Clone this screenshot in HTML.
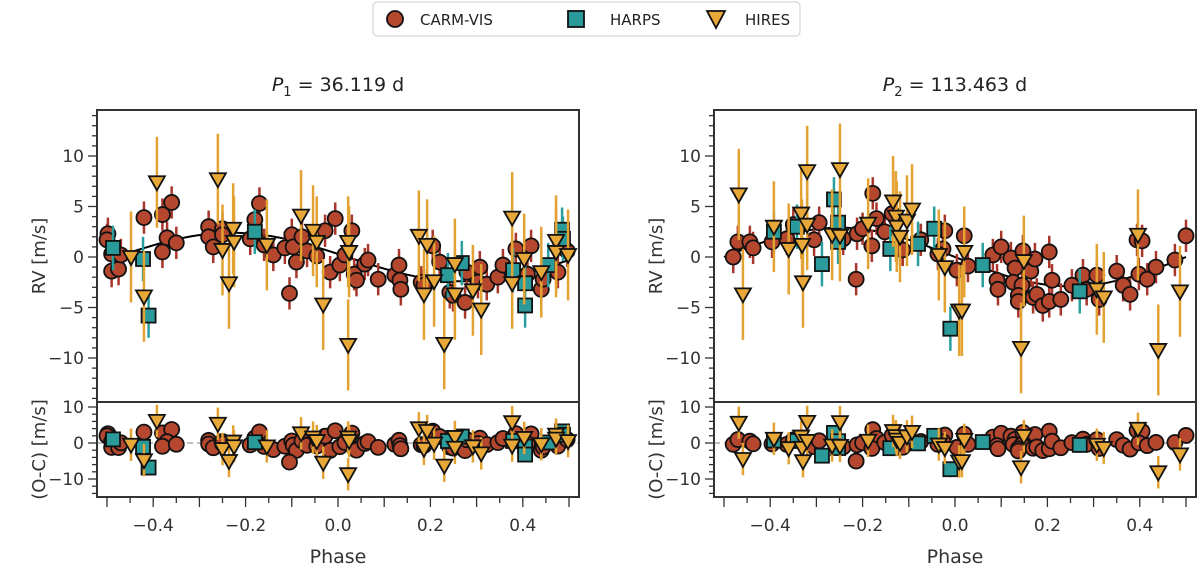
<!DOCTYPE html>
<html><head><meta charset="utf-8"><style>
html,body{margin:0;padding:0;background:#fff;}
svg{display:block;font-family:"DejaVu Sans","Liberation Sans",sans-serif;}
</style></head><body>
<svg id="fig" width="1200" height="569" viewBox="0 0 1200 569" xmlns="http://www.w3.org/2000/svg">
<g>
<rect x="373" y="2" width="427" height="34" rx="4" fill="#fff" stroke="#ccc"/>
<g><circle cx="395" cy="19" r="8" fill="#b5472f" stroke="#111" stroke-width="1.8"/><text x="420" y="25" font-size="15" fill="#222">CARM-VIS</text></g>
<g><rect x="568" y="11" width="16" height="16" fill="#2a9a9a" stroke="#111" stroke-width="1.8"/><text x="610" y="25" font-size="15" fill="#222">HARPS</text></g>
<g><path d="M707,11 L725,11 L716,28 Z" fill="#e8a838" stroke="#111" stroke-width="1.8"/><text x="745" y="25" font-size="15" fill="#222">HIRES</text></g>
</g>
</svg>
<script>
// ===== Panel 1 (P1) data =====
const p1CarmPhase=[-0.498,-0.5,-0.49,-0.49,-0.475,-0.47,-0.42,-0.38,-0.36,-0.37,-0.38,-0.35,-0.28,-0.28,-0.27,-0.25,-0.25,-0.18,-0.17,-0.19,-0.16,-0.14,-0.115,-0.10,-0.097,-0.09,-0.105,-0.078,-0.067,-0.046,-0.028,-0.017,-0.006,0.03,0.004,0.015,0.035,0.04,0.058,0.065,0.087,0.123,0.132,0.134,0.136,0.18,0.186,0.205,0.22,0.242,0.249,0.275,0.279,0.307,0.303,0.322,0.346,0.357,0.385,0.418,0.41,0.44,0.444,0.476,0.496];
const p1CarmRV=[2.3,1.7,0.3,-1.4,-1.2,0.2,3.9,4.2,5.4,1.9,0.5,1.4,3,2,1,2.8,2.2,3.7,5.3,1.8,1.2,0.2,0.9,2.2,1,-0.5,-3.6,2,0.6,0.1,2.6,-1.5,3.8,2.6,-0.8,0.2,-1.7,-2.3,-0.7,-0.3,-2.2,-1.8,-0.8,-2.3,-3.2,-2.5,-2.8,1.1,-0.5,-3.5,-3.8,-4.5,-1.5,-1,-2.5,-2.7,-2,-0.8,0.8,1.1,-1.7,-3.2,-2.2,-1.5,0.6];
const p1HarpsPhase=[-0.487,-0.422,-0.41,-0.18,0.268,0.238,0.379,0.405,0.405,0.455,0.485,0.487];
const p1HarpsRV=[0.9,-0.2,-5.8,2.5,-0.6,-1.8,-1.3,-2.6,-4.8,-0.8,2.7,1.8];
const p1HiresPhase=[-0.448,-0.392,-0.42,-0.26,-0.25,-0.227,-0.225,-0.236,-0.154,-0.08,-0.054,-0.046,-0.032,0.022,0.024,0.022,0.175,0.193,0.186,0.208,0.23,0.253,0.253,0.292,0.31,0.377,0.377,0.403,0.44,0.472,0.472,0.498];
const p1HiresRV=[0,7.4,-3.9,7.7,0.7,2.8,1.5,-2.6,1.2,4.1,2.6,1.5,-4.7,1.5,0.5,-8.7,2.1,1.2,-3.7,-2.4,-8.6,-0.7,-3.7,-3.3,-5.2,3.9,-2.6,-0.2,-1.5,1.6,0.5,0.2];
const p1Model=[2.4,-0.23]; // semi-amplitude, phase of maximum
// ===== Panel 2 (P2) data =====
const p2CarmPhase=[-0.48,-0.47,-0.444,-0.437,-0.396,-0.364,-0.35,-0.305,-0.294,-0.242,-0.214,-0.212,-0.2,-0.178,-0.17,-0.18,-0.152,-0.136,-0.119,-0.113,-0.074,-0.022,-0.026,-0.037,0.004,0.02,0.028,0.082,0.1,0.121,0.13,0.091,0.093,0.126,0.147,0.164,0.173,0.145,0.137,0.137,0.169,0.177,0.19,0.204,0.204,0.21,0.229,0.253,0.277,0.285,0.307,0.312,0.35,0.364,0.379,0.394,0.405,0.398,0.416,0.435,0.476,0.5];
const p2CarmRV=[0,1.5,1.5,0.9,1.5,1.8,3.2,1.7,3.4,1.8,-2.2,2.3,2.8,6.3,3.8,1.1,2.5,4.3,0.8,0.7,1.7,2.6,0.8,0.3,-1.3,2.1,-0.9,0.2,1,-0.1,-1.1,-2.3,-3.2,-2.5,0.6,-1.4,-0.2,-2.8,-3.8,-4.4,-4.0,-3.7,-4.8,-4.4,0.5,-2.3,-4.2,-2.8,-1.8,-3.2,-1.8,-4.2,-1.4,-2.8,-3.7,1.7,1.6,-1.7,-2.2,-1,-0.3,2.1];
const p2HarpsPhase=[-0.392,-0.342,-0.262,-0.253,-0.253,-0.288,-0.14,-0.08,-0.045,-0.01,0.06,0.27];
const p2HarpsRV=[2.5,3.0,5.7,3.4,1.5,-0.7,0.8,1.3,2.8,-7.1,-0.8,-3.4];
const p2HiresPhase=[-0.468,-0.459,-0.392,-0.36,-0.333,-0.331,-0.32,-0.32,-0.329,-0.249,-0.266,-0.249,-0.188,-0.134,-0.128,-0.126,-0.119,-0.104,-0.093,-0.035,-0.022,0.009,0.02,0.015,0.149,0.143,0.307,0.322,0.396,0.44,0.487];
const p2HiresRV=[6.2,-3.7,3,0.8,4.3,1.2,3.2,8.5,-2.5,8.7,2.2,2.1,3.3,5.5,4,3,2,3.6,4.7,0.2,-1,-5.3,0.5,-5.3,-0.4,-9,-3.2,-4,2.2,-9.2,-3.4];
const p2Model=[2.9,-0.25];
const errCarm=1.6, errHarps=2.2, errHires=4.5;
const xTicks=[-0.4,-0.2,0.0,0.2,0.4];
const yTicksMain=[-10,-5,0,5,10];
const yTicksRes=[-10,0,10];

const NS="http://www.w3.org/2000/svg";
const svg=document.getElementById('fig');
function mk(tag,attrs,parent){const e=document.createElementNS(NS,tag);for(const k in attrs)e.setAttribute(k,attrs[k]);(parent||svg).appendChild(e);return e;}
function fmt(v){return (v<0?'\u2212':'')+Math.abs(v).toFixed(1);}

function panel(left,model,series,sub,period,key){
  const W=482, xs=p=>left+241+p*462;
  const ym=v=>257-10.1*v, yr=v=>443-3.6*v;
  const mTop=110,mBot=402,rBot=497;
  const modelF=p=>model[0]*Math.cos(2*Math.PI*(p-model[1]));
  const g=mk('g',{});
  
  
  const t=mk('text',{x:left+241,y:91,'text-anchor':'middle','font-size':19,fill:'#222'},g);
  
  
  t.innerHTML='<tspan font-style="italic">P</tspan><tspan font-size="13" dy="5">'+sub+'</tspan><tspan dy="-5"> = '+period+' d</tspan>';
  const zl=mk('line',{x1:left,x2:left+W,y1:yr(0),y2:yr(0),stroke:'#aaa','stroke-width':1.5,'stroke-dasharray':'6,4'},g);
  
  
  let d='';for(let i=0;i<=200;i++){const p=-0.5+i/200;d+=(i?'L':'M')+xs(p).toFixed(1)+','+ym(modelF(p)).toFixed(1);}
  const mc=mk('path',{d:d,fill:'none',stroke:'#000','stroke-width':2},g);
  
  
  series.forEach(s=>{
    const sg=mk('g',{},g);
    
    
    s.ph.forEach((p,i)=>{
      const v=s.rv[i], r=v-modelF(p), x=xs(p);
      [[ym(v),10.1],[yr(r),3.6]].forEach(([y,sc])=>{
        const eb=mk('line',{x1:x,x2:x,y1:y-s.err*sc,y2:y+s.err*sc,stroke:s.ec,'stroke-width':2.5},sg);
        
        
      });
    });
    s.ph.forEach((p,i)=>{
      const v=s.rv[i], r=v-modelF(p), x=xs(p);
      [ym(v),yr(r)].forEach(y=>{
        let m;
        if(s.name==='carm') m=mk('circle',{cx:x,cy:y,r:7.5,fill:s.fc,stroke:'#111','stroke-width':1.8},sg);
        else if(s.name==='harps') m=mk('rect',{x:x-7,y:y-7,width:14,height:14,fill:s.fc,stroke:'#111','stroke-width':1.8},sg);
        else m=mk('path',{d:`M${x-8},${y-6}L${x+8},${y-6}L${x},${y+8}Z`,fill:s.fc,stroke:'#111','stroke-width':1.8},sg);
        
        
      });
    });
  });
  const f1=mk('rect',{x:left,y:mTop,width:W,height:mBot-mTop,fill:'none',stroke:'#333','stroke-width':2},g);
  
  
  const f2=mk('rect',{x:left,y:mBot,width:W,height:rBot-mBot,fill:'none',stroke:'#333','stroke-width':2},g);
  
  
  for(let v=-14;v<=14;v++){const y=ym(v);if(y<mTop||y>mBot)continue;const L=(v%5===0)?9:5;
    const tk=mk('line',{x1:left-L,x2:left,y1:y,y2:y,stroke:'#333','stroke-width':1.3},g);
    
    }
  yTicksMain.forEach(v=>{const tl=mk('text',{x:left-13,y:ym(v)+6,'text-anchor':'end','font-size':17,fill:'#333'},g);tl.textContent=(v<0?'\u2212':'')+Math.abs(v);
    
    });
  for(let v=-14;v<=10;v+=2){const y=yr(v);if(y<mBot||y>rBot)continue;const L=(v%10===0)?9:5;
    const tk=mk('line',{x1:left-L,x2:left,y1:y,y2:y,stroke:'#333','stroke-width':1.3},g);
    
    }
  yTicksRes.forEach(v=>{const tl=mk('text',{x:left-13,y:yr(v)+6,'text-anchor':'end','font-size':17,fill:'#333'},g);tl.textContent=(v<0?'\u2212':'')+Math.abs(v);
    
    });
  for(let k=-10;k<=10;k++){const p=k*0.05,x=xs(p);const L=(k%2===0)?10:6;
    const tk=mk('line',{x1:x,x2:x,y1:rBot,y2:rBot+L,stroke:'#333','stroke-width':1.3},g);
    
    }
  xTicks.forEach(p=>{const tl=mk('text',{x:xs(p),y:531,'text-anchor':'middle','font-size':17,fill:'#333'},g);tl.textContent=fmt(p);
    
    });
  const xl=mk('text',{x:left+241,y:563,'text-anchor':'middle','font-size':19,fill:'#333'},g);xl.textContent='Phase';
  
  
  const y1=mk('text',{x:0,y:0,'text-anchor':'middle','font-size':18,fill:'#333',transform:`translate(${left-52},${(mTop+mBot)/2}) rotate(-90)`},g);y1.textContent='RV [m/s]';
  
  
  const y2=mk('text',{x:0,y:0,'text-anchor':'middle','font-size':18,fill:'#333',transform:`translate(${left-52},${(mBot+rBot)/2}) rotate(-90)`},g);y2.textContent='(O-C) [m/s]';
  
  
}
function ser(cp,cr,hp,hr,ip,ir){return [
 {name:'carm',ph:cp,rv:cr,err:errCarm,ec:'#a8362b',fc:'#b5472f'},
 {name:'harps',ph:hp,rv:hr,err:errHarps,ec:'#2a9d9d',fc:'#2a9a9a'},
 {name:'hires',ph:ip,rv:ir,err:errHires,ec:'#e3a232',fc:'#e8a838'}];}
panel(97,p1Model,ser(p1CarmPhase,p1CarmRV,p1HarpsPhase,p1HarpsRV,p1HiresPhase,p1HiresRV),'1','36.119','p1');
panel(714,p2Model,ser(p2CarmPhase,p2CarmRV,p2HarpsPhase,p2HarpsRV,p2HiresPhase,p2HiresRV),'2','113.463','p2');
</script>
</body></html>
